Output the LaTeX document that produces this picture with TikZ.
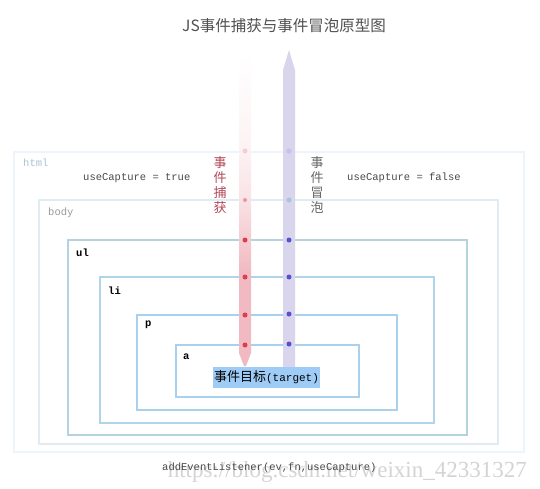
\documentclass[tikz,border=0pt]{standalone}
\usepackage{fontspec}
\setmainfont{Liberation Serif}
\setmonofont{Liberation Mono}
\newfontfamily\cjk{Noto Sans CJK SC}
\newfontfamily\wmfont{Liberation Serif}
\definecolor{htmlC}{HTML}{EEF4F9}
\definecolor{bodyC}{HTML}{E1EBF2}
\definecolor{ulC}{HTML}{B5D2DF}
\definecolor{liC}{HTML}{B0D4E8}
\definecolor{pC}{HTML}{A9D1EE}
\definecolor{aC}{HTML}{A9D1EE}
\definecolor{htmlT}{HTML}{A8C4D4}
\definecolor{bodyT}{HTML}{999999}
\definecolor{grayT}{HTML}{4A4A4A}
\definecolor{titleC}{HTML}{505050}
\definecolor{capP}{HTML}{F1B9C1}
\definecolor{bubC}{HTML}{D9D5EC}
\definecolor{capDot}{HTML}{D8404C}
\definecolor{bubDot}{HTML}{5B4FCF}
\definecolor{bubDotB}{HTML}{A9C3DD}
\definecolor{capT}{HTML}{B04858}
\definecolor{bubT}{HTML}{666666}
\definecolor{tgtC}{HTML}{9FCCF6}
\definecolor{wmC}{HTML}{D4D4D4}
\pgfdeclareverticalshading{capshade}{100bp}{color(0bp)=(capP); color(25bp)=(capP); color(40bp)=(capP); color(46bp)=(capP!70!white); color(52bp)=(capP!40!white); color(60bp)=(capP!18!white); color(75bp)=(white); color(100bp)=(white)}
\begin{document}
\begin{tikzpicture}[x=1pt,y=-1pt,
  boxline/.style={line width=2pt},
  mono/.style={font=\ttfamily\fontsize{10.5}{12}\selectfont, inner sep=0pt},
  tag/.style={mono, anchor=west},
  boldtag/.style={tag, text=black, font=\ttfamily\bfseries\fontsize{10.5}{12}\selectfont},
  vlabel/.style={font=\cjk\fontsize{13}{15}\selectfont, align=center, inner sep=0pt}]
\useasboundingbox[fill=white] (0,0) rectangle (540,489);

% title
\node[font=\cjk\fontsize{15.5}{18}\selectfont, text=titleC] (title) at (284,26) {JS事件捕获与事件冒泡原型图};

% nested boxes
\draw[boxline, draw=htmlC] (14,152) rectangle (524,452);
\draw[boxline, draw=bodyC] (39,200) rectangle (498,444);
\draw[boxline, draw=ulC] (68,240) rectangle (467,435);
\draw[boxline, draw=liC] (100,277) rectangle (434,423);
\draw[boxline, draw=pC] (137,315) rectangle (397,410);
\draw[boxline, draw=aC] (176,345) rectangle (359,397);

% box labels
\node[tag, text=htmlT] (lhtml) at (23,163) {html};
\node[tag, text=bodyT] (lbody) at (48,213) {body};
\node[boldtag] (lul) at (76,253) {ul};
\node[boldtag] (lli) at (108,291) {li};
\node[boldtag] (lp) at (145,325) {p};
\node[boldtag] (la) at (183,357) {a};

% useCapture labels
\node[tag, text=grayT] (uct) at (83,178) {useCapture = true};
\node[tag, text=grayT] (ucf) at (347,178) {useCapture = false};

% capture arrow (fading)
\shade[shading=capshade] (239,55) -- (251,55) -- (251,353) -- (246,366) -- (244,366) -- (239,353) -- cycle;
% bubble arrow
\fill[bubC] (283,367) -- (283,70) -- (289,50) -- (295,70) -- (295,367) -- cycle;

% dots
\fill[capP!70!white] (245,151) circle (2.5pt);
\fill[capDot!55!white] (245,200) circle (2pt);
\foreach \yy in {240,277,315,345} \fill[capDot] (245,\yy) circle (2.5pt);
\fill[bubDot!35!white] (289,151) circle (2.7pt);
\fill[bubDotB] (289,200) circle (2.5pt);
\foreach \yy in {240,277,314,344} \fill[bubDot] (289,\yy) circle (2.5pt);

% vertical labels
\node[vlabel, text=capT] (capl) at (220,185) {事\\件\\捕\\获};
\node[vlabel, text=bubT] (bubl) at (317,185) {事\\件\\冒\\泡};

% target
\node[fill=tgtC, minimum width=107pt, minimum height=21pt, inner sep=0pt] (target) at (266.5,377.5) {{\cjk\fontsize{13}{15}\selectfont 事件目标}{\ttfamily\fontsize{11}{12}\selectfont (target)}};

% watermark and code line
\node[font=\wmfont\fontsize{23}{26}\selectfont, text=wmC, anchor=base east, inner sep=0pt] (wm) at (527,477) {https://blog.csdn.net/weixin\_42331327};
\node[tag, text=grayT] (code) at (162,468) {addEventListener(ev,fn,useCapture)};
\end{tikzpicture}
\end{document}
